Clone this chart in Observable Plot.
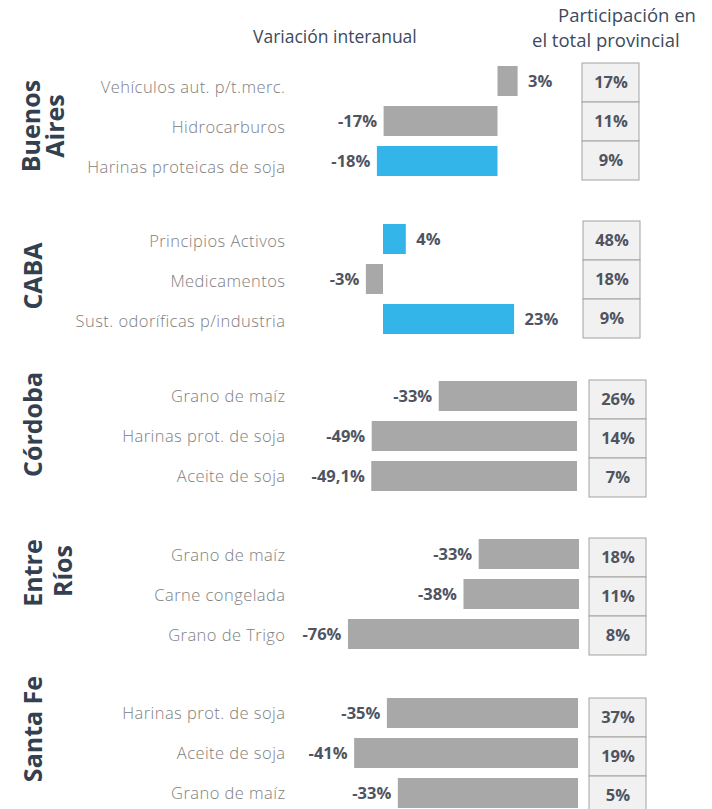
<!DOCTYPE html>
<html>
<head>
<meta charset="utf-8">
<script src="https://cdn.jsdelivr.net/npm/d3@7"></script>
<script src="https://cdn.jsdelivr.net/npm/@observablehq/plot@0.6"></script>
<style>
  html, body { margin: 0; padding: 0; background: #fff; }
  #root { position: relative; width: 712px; height: 809px; overflow: hidden; font-family: "Open Sans", sans-serif; }
  #root > svg { position: absolute; overflow: visible; }
  g[aria-label="y-axis tick label"] text { letter-spacing: 0.45px; }
</style>
</head>
<body>
<div id="root"></div>
<script>
// ---------------- DATA ----------------
const provincias = ["Buenos Aires", "CABA", "Córdoba", "Entre Ríos", "Santa Fe"];

const provincia = [
  "Buenos Aires", "Buenos Aires", "Buenos Aires",
  "CABA", "CABA", "CABA",
  "Córdoba", "Córdoba", "Córdoba",
  "Entre Ríos", "Entre Ríos", "Entre Ríos",
  "Santa Fe", "Santa Fe", "Santa Fe"
];
const producto = [
  "Vehículos aut. p/t.merc.", "Hidrocarburos", "Harinas proteicas de soja",
  "Principios Activos", "Medicamentos", "Sust. odoríficas p/industria",
  "Grano de maíz", "Harinas prot. de soja", "Aceite de soja",
  "Grano de maíz", "Carne congelada", "Grano de Trigo",
  "Harinas prot. de soja", "Aceite de soja", "Grano de maíz"
];
const variacion = [3, -17, -18, 4, -3, 23, -33, -49, -49.1, -33, -38, -76, -35, -41, -33];
const participacion = [17, 11, 9, 48, 18, 9, 26, 14, 7, 18, 11, 8, 37, 19, 5];
const destacado = [false, false, true, true, false, true, false, false, false, false, false, false, false, false, false];

const tituloVariacion = "Variación interanual";
const tituloParticipacion = ["Participación en", "el total provincial"];

// ---------------- LAYOUT (pixels) ----------------
const layout = {
  "Buenos Aires": {zero: 497.5, k: 6.7,  top: 60.5,  boxLeft: 582, boxTop: 63,  labelDy: 6,
                   title: [["Buenos", 40, 126], ["Aires", 64, 126]]},
  "CABA":         {zero: 383,   k: 5.7,  top: 218.5, boxLeft: 583, boxTop: 221, labelDy: 2,
                   title: [["CABA", 42, 276]]},
  "Córdoba":      {zero: 577,   k: 4.19, top: 376,   boxLeft: 589, boxTop: 380, labelDy: 0,
                   title: [["Córdoba", 42, 424.5]]},
  "Entre Ríos":   {zero: 579,   k: 3.04, top: 533.5, boxLeft: 589, boxTop: 538, labelDy: 1,
                   title: [["Entre", 42, 573], ["Ríos", 72, 571]]},
  "Santa Fe":     {zero: 578,   k: 5.46, top: 693,   boxLeft: 589, boxTop: 698, labelDy: 0,
                   title: [["Santa Fe", 42, 729]]}
};

const W = 712, LEFT = 290, H = 120;
const GREY = "#a8a8a8", BLUE = "#33b5e9";
const FONT = '"Open Sans", sans-serif';

const rows = provincia.map((p, i) => ({
  provincia: p, producto: producto[i], variacion: variacion[i],
  participacion: participacion[i], destacado: destacado[i]
}));

const fmt = d => (d.variacion < 0 ? "-" : "") + String(Math.abs(d.variacion)).replace(".", ",") + "%";

const root = document.getElementById("root");

for (const prov of provincias) {
  const L = layout[prov];
  const data = rows.filter(d => d.provincia === prov);
  const dom = data.map(d => d.producto);

  const chart = Plot.plot({
    width: W, height: H,
    marginLeft: LEFT, marginRight: 0, marginTop: 0, marginBottom: 0,
    style: {fontFamily: FONT, background: "transparent", overflow: "visible"},
    x: {domain: [(LEFT - L.zero) / L.k, (W - L.zero) / L.k], axis: null},
    y: {domain: dom, paddingInner: 0.25, paddingOuter: 0.125},
    marks: [
      Plot.axisY({tickSize: 0, tickPadding: 5, label: null, fontSize: 16.5, fontWeight: 300,
                  fill: "#808080", dy: L.labelDy}),
      Plot.barX(data, {x1: 0, x2: "variacion", y: "producto",
                       fill: d => d.destacado ? BLUE : GREY}),
      Plot.text(data.filter(d => d.variacion < 0), {
        x: "variacion", y: "producto", text: fmt, textAnchor: "end", dx: -7,
        fontSize: 16.5, fontWeight: 700, fill: "#4f5461"}),
      Plot.text(data.filter(d => d.variacion >= 0), {
        x: "variacion", y: "producto", text: fmt, textAnchor: "start", dx: 10,
        fontSize: 16.5, fontWeight: 700, fill: "#4f5461"})
    ]
  });
  chart.style.left = "0px";
  chart.style.top = L.top + "px";
  root.appendChild(chart);

  const box = Plot.plot({
    width: 59, height: 119, margin: 1,
    style: {fontFamily: FONT, background: "transparent", overflow: "visible"},
    y: {domain: dom, padding: 0, axis: null},
    marks: [
      Plot.cell(data, {y: "producto", fill: "#f1f1f1", stroke: "#a2a2a2"}),
      Plot.text(data, {y: "producto", text: d => d.participacion + "%",
                       fontSize: 16.5, fontWeight: 700, fill: "#4f5461"})
    ]
  });
  box.style.left = (L.boxLeft - 1) + "px";
  box.style.top = (L.boxTop - 1) + "px";
  root.appendChild(box);
}

// Titles and headers
const svg = d3.select(root).append("svg")
  .attr("width", W).attr("height", 809)
  .style("left", "0px").style("top", "0px").style("pointer-events", "none")
  .style("font-family", FONT);

svg.append("text").attr("x", 253).attr("y", 43)
  .attr("font-size", 17.5).attr("fill", "#3d4a5c").text(tituloVariacion);
svg.append("text").attr("x", 558).attr("y", 22)
  .attr("font-size", 18.5).attr("fill", "#3d4a5c").text(tituloParticipacion[0]);
svg.append("text").attr("x", 532).attr("y", 47)
  .attr("font-size", 18.5).attr("fill", "#3d4a5c").text(tituloParticipacion[1]);

for (const prov of provincias) {
  for (const [t, x, y] of layout[prov].title) {
    svg.append("text")
      .attr("transform", `translate(${x},${y}) rotate(-90)`)
      .attr("text-anchor", "middle")
      .attr("font-size", 25).attr("font-weight", 700).attr("fill", "#33404f")
      .text(t);
  }
}
</script>
</body>
</html>
